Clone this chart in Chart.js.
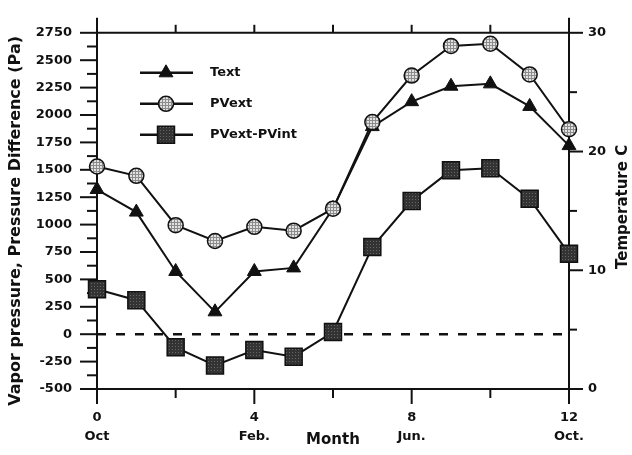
<!DOCTYPE html>
<html>
<head>
<meta charset="utf-8">
<title>Vapor pressure and temperature</title>
<script src="https://cdn.jsdelivr.net/npm/chart.js@4.4.1/dist/chart.umd.min.js"></script>
<style>
  body { margin: 0; background: #fff; }
  canvas { display: block; }
</style>
</head>
<body>
<canvas id="myChart" width="632" height="455"></canvas>
<script>
// Months counted from October
const months = [0, 1, 2, 3, 4, 5, 6, 7, 8, 9, 10, 11, 12];
// Outdoor temperature (C)
const textTemp = [16.8, 14.9, 9.9, 6.5, 9.9, 10.2, 15.2, 22.1, 24.2, 25.5, 25.7, 23.8, 20.5];
// Outdoor vapor pressure (Pa)
const pvExt = [1530, 1445, 995, 850, 980, 945, 1145, 1935, 2360, 2630, 2650, 2370, 1870];
// Outdoor minus indoor vapor pressure (Pa)
const pvDiff = [410, 310, -120, -285, -145, -205, 20, 795, 1215, 1495, 1515, 1235, 735];
// Zero reference for the pressure difference
const zeroMonths = [0, 12];
const zeroLine = [0, 0];

// Axis ticks and labels
const monthTicks = [0, 4, 8, 12];
const monthNames = ['Oct', 'Feb.', 'Jun.', 'Oct.'];
const monthMarks = [0, 2, 4, 6, 8, 10, 12];
const legendLabels = ['Text', 'PVext', 'PVext-PVint'];

const ink = '#111';
const fontFamily = "'DejaVu Sans', 'Liberation Sans', sans-serif";

// Small tiled fills for the markers
function makePattern(size, bg, fg, cells) {
    const c = document.createElement('canvas');
    c.width = size;
    c.height = size;
    const g = c.getContext('2d');
    g.fillStyle = bg;
    g.fillRect(0, 0, size, size);
    g.fillStyle = fg;
    cells.forEach(([px, py]) => g.fillRect(px, py, 1, 1));
    return g.createPattern(c, 'repeat');
}
const hatchLight = makePattern(3, '#e2e2e2', '#8c8c8c', [[0, 0], [1, 0], [2, 0], [0, 1], [0, 2]]);
const hatchDark = makePattern(3, '#333333', '#666666', [[1, 1]]);

const toPoints = (xs, ys) => xs.map((m, i) => ({ x: m, y: ys[i] }));

const seriesStyles = [
    { pointStyle: 'triangle', pointRadius: 8, pointBackgroundColor: ink, pointBorderWidth: 1 },
    { pointStyle: 'circle', pointRadius: 7.5, pointBackgroundColor: hatchLight, pointBorderWidth: 1.5 },
    { pointStyle: 'rect', pointRadius: 12, pointBackgroundColor: hatchDark, pointBorderWidth: 1.5 }
];

function drawUpright(ctx, text, x, y, font) {
    ctx.save();
    ctx.fillStyle = ink;
    ctx.font = font;
    ctx.textAlign = 'center';
    ctx.textBaseline = 'middle';
    ctx.translate(x, y);
    ctx.rotate(-Math.PI / 2);
    ctx.fillText(text, 0, 0);
    ctx.restore();
}

// Axis lines and tick marks, drawn under the data
const axisFrame = {
    id: 'axisFrame',
    beforeDatasetsDraw(chart) {
        const { ctx, chartArea: a, scales } = chart;
        ctx.save();
        ctx.strokeStyle = ink;
        ctx.lineWidth = 2;
        const seg = (x1, y1, x2, y2) => {
            ctx.beginPath();
            ctx.moveTo(x1, y1);
            ctx.lineTo(x2, y2);
            ctx.stroke();
        };
        seg(a.left, a.top, a.right, a.top);
        seg(a.left, a.bottom, a.right, a.bottom);
        seg(a.left, a.top, a.left, a.bottom);
        seg(a.right, a.top, a.right, a.bottom);

        for (let v = -500; v <= 2750; v += 125) {
            const py = scales.y.getPixelForValue(v);
            seg(a.left - (v % 250 === 0 ? 17 : 10), py, a.left, py);
        }
        for (let v = 0; v <= 30; v += 5) {
            const py = scales.y2.getPixelForValue(v);
            seg(a.right, py, a.right + (v % 10 === 0 ? 14 : 8), py);
        }
        monthMarks.forEach(m => {
            const px = scales.x.getPixelForValue(m);
            seg(px, a.bottom, px, a.bottom + (m % 4 === 0 ? 15 : 9));
            seg(px, a.top - (m === 0 || m === 12 ? 15 : 8), px, a.top);
        });
        ctx.restore();
    },
    afterDraw(chart) {
        const { ctx, chartArea: a } = chart;
        const mid = (a.top + a.bottom) / 2;
        // axis titles read upward on both sides
        drawUpright(ctx, 'Vapor pressure, Pressure Difference (Pa)', 16, mid + 10, 'bold 16px ' + fontFamily);
        drawUpright(ctx, 'Temperature C', chart.width - 9, mid - 4, 'bold 15px ' + fontFamily);

        // legend in the upper left of the plot
        ctx.save();
        ctx.font = 'bold 13px ' + fontFamily;
        ctx.textBaseline = 'middle';
        legendLabels.forEach((label, i) => {
            const ly = a.top + 40 + i * 31;
            const lx = a.left + 43;
            ctx.strokeStyle = ink;
            ctx.lineWidth = 2.5;
            ctx.beginPath();
            ctx.moveTo(lx, ly);
            ctx.lineTo(lx + 53, ly);
            ctx.stroke();
            const st = seriesStyles[i];
            ctx.fillStyle = st.pointBackgroundColor;
            ctx.lineWidth = st.pointBorderWidth;
            Chart.helpers.drawPoint(ctx, {
                pointStyle: st.pointStyle,
                radius: st.pointRadius,
                rotation: 0,
                borderWidth: st.pointBorderWidth
            }, lx + 26, ly);
            ctx.fillStyle = ink;
            ctx.fillText(label, lx + 70, ly);
        });
        ctx.restore();
    }
};

const ctx = document.getElementById('myChart').getContext('2d');
const myChart = new Chart(ctx, {
    type: 'line',
    data: {
        datasets: [
            Object.assign({
                label: legendLabels[0],
                data: toPoints(months, textTemp),
                yAxisID: 'y2',
                order: 3
            }, seriesStyles[0]),
            Object.assign({
                label: legendLabels[1],
                data: toPoints(months, pvExt),
                yAxisID: 'y',
                order: 1
            }, seriesStyles[1]),
            Object.assign({
                label: legendLabels[2],
                data: toPoints(months, pvDiff),
                yAxisID: 'y',
                order: 2
            }, seriesStyles[2]),
            {
                label: 'zero',
                data: toPoints(zeroMonths, zeroLine),
                yAxisID: 'y',
                borderDash: [9, 10],
                borderWidth: 2.5,
                pointRadius: 0,
                order: 4
            }
        ].map(ds => Object.assign({
            borderColor: ink,
            borderWidth: 2,
            pointBorderColor: ink,
            pointHoverRadius: 0,
            fill: false,
            tension: 0,
            clip: false
        }, ds))
    },
    options: {
        responsive: false,
        animation: false,
        devicePixelRatio: 1,
        layout: { padding: 0 },
        font: { family: fontFamily },
        plugins: {
            legend: { display: false },
            tooltip: { enabled: false }
        },
        scales: {
            x: {
                type: 'linear',
                position: 'bottom',
                min: 0,
                max: 12,
                grid: { display: false, drawTicks: false },
                border: { display: false },
                ticks: {
                    stepSize: 4,
                    autoSkip: false,
                    maxRotation: 0,
                    padding: 19,
                    color: ink,
                    font: { family: fontFamily, size: 13, weight: 'bold', lineHeight: 1.46 },
                    callback: v => {
                        const i = monthTicks.indexOf(v);
                        return i < 0 ? '' : [String(v), monthNames[i]];
                    }
                },
                title: {
                    display: true,
                    text: 'Month',
                    color: ink,
                    font: { family: fontFamily, size: 15, weight: 'bold' },
                    padding: { top: 0, bottom: 6 }
                },
                afterFit: s => { s.height = 66; }
            },
            xTop: {
                type: 'linear',
                position: 'top',
                min: 0,
                max: 12,
                grid: { display: false, drawTicks: false },
                border: { display: false },
                ticks: { display: false },
                afterFit: s => { s.height = 30; }
            },
            y: {
                position: 'left',
                min: -500,
                max: 2750,
                grid: { display: false, drawTicks: false },
                border: { display: false },
                ticks: {
                    stepSize: 250,
                    padding: 25,
                    color: ink,
                    font: { family: fontFamily, size: 13, weight: 'bold' },
                    callback: v => String(v)
                },
                afterFit: s => { s.width = 97; }
            },
            y2: {
                position: 'right',
                min: 0,
                max: 30,
                grid: { display: false, drawTicks: false },
                border: { display: false },
                ticks: {
                    stepSize: 10,
                    padding: 19,
                    color: ink,
                    font: { family: fontFamily, size: 13, weight: 'bold' },
                    callback: v => String(v)
                },
                afterFit: s => { s.width = 63; }
            }
        }
    },
    plugins: [axisFrame]
});
</script>
</body>
</html>
